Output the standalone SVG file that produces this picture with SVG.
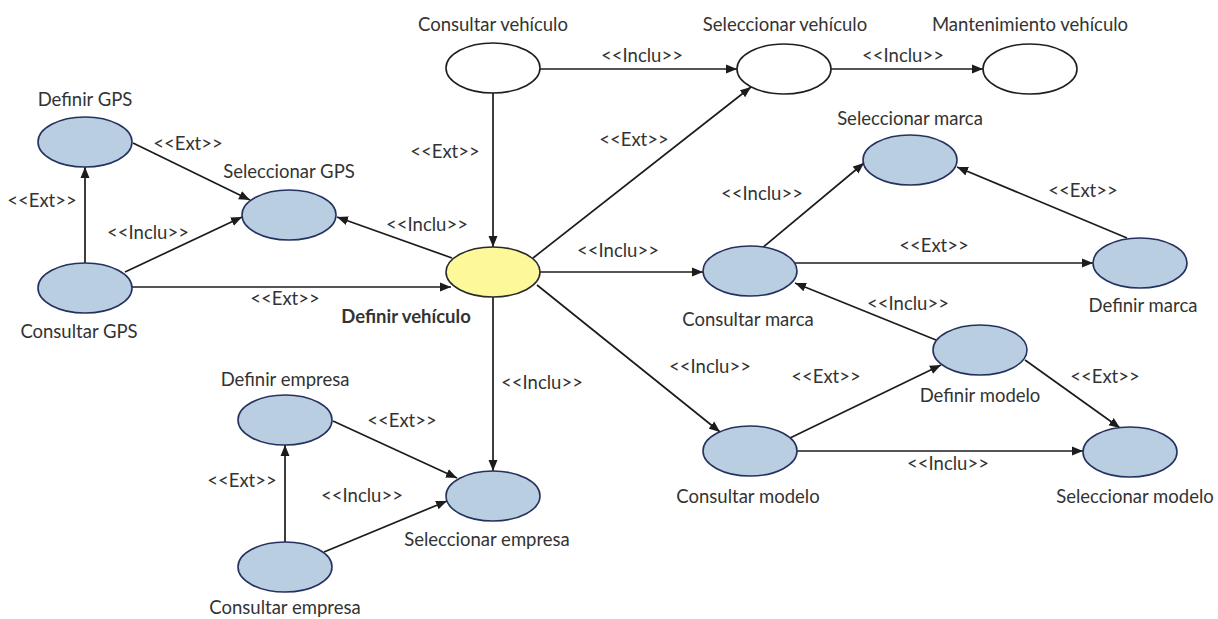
<svg xmlns="http://www.w3.org/2000/svg" width="1218" height="619" viewBox="0 0 1218 619">
  <defs>
    <style>
      .uc { fill: #bacee1; stroke: #25315f; stroke-width: 1.6; }
      .uc-main { fill: #fdf89a; stroke: #2a2a2a; stroke-width: 1.6; }
      .uc-plain { fill: #ffffff; stroke: #1f1f1f; stroke-width: 1.6; }
      .lbl { font-family: Lato, "Liberation Sans", sans-serif; font-size: 18.5px; fill: #333333; text-anchor: middle; }
      .lbl-b { font-weight: bold; }
      .rel { font-family: Lato, "Liberation Sans", sans-serif; font-size: 18.5px; fill: #333333; text-anchor: middle; }
      .edge { stroke: #1c1c1c; stroke-width: 1.7; fill: none; marker-end: url(#arrow); }
    </style>
    <marker id="arrow" markerWidth="12" markerHeight="10" refX="11" refY="5" orient="auto" markerUnits="userSpaceOnUse">
      <path d="M0,0.5 L11,5 L0,9.5 z" fill="#1c1c1c"/>
    </marker>
  </defs>
  <rect width="1218" height="619" fill="#ffffff"/>

  <!-- connectors -->
  <g id="connectors">
    <line class="edge" x1="133" y1="143" x2="250" y2="200"/>
    <line class="edge" x1="85" y1="263" x2="85" y2="167"/>
    <line class="edge" x1="125" y1="272" x2="242" y2="217"/>
    <line class="edge" x1="132" y1="287" x2="451" y2="287"/>
    <line class="edge" x1="452" y1="258" x2="337" y2="217"/>
    <line class="edge" x1="493" y1="93" x2="493" y2="247"/>
    <line class="edge" x1="540" y1="69" x2="737" y2="69"/>
    <line class="edge" x1="831" y1="69" x2="983" y2="69"/>
    <line class="edge" x1="533" y1="258" x2="751" y2="87"/>
    <line class="edge" x1="540" y1="272" x2="703" y2="272"/>
    <line class="edge" x1="762" y1="248" x2="864" y2="163"/>
    <line class="edge" x1="795" y1="263" x2="1093" y2="263"/>
    <line class="edge" x1="1127" y1="238" x2="957" y2="167"/>
    <line class="edge" x1="936" y1="340" x2="795" y2="283"/>
    <line class="edge" x1="537" y1="285" x2="720" y2="432"/>
    <line class="edge" x1="790" y1="438" x2="941" y2="365"/>
    <line class="edge" x1="1025" y1="360" x2="1120" y2="428"/>
    <line class="edge" x1="797" y1="451" x2="1083" y2="451"/>
    <line class="edge" x1="333" y1="421" x2="457" y2="478"/>
    <line class="edge" x1="285" y1="543" x2="285" y2="445"/>
    <line class="edge" x1="324" y1="552" x2="447" y2="501"/>
    <line class="edge" x1="493" y1="297" x2="493" y2="471"/>

    <!-- stereotype labels -->
    <text class="rel" x="188" y="150">&lt;&lt;Ext&gt;&gt;</text>
    <text class="rel" x="42" y="207">&lt;&lt;Ext&gt;&gt;</text>
    <text class="rel" x="148" y="239">&lt;&lt;Inclu&gt;&gt;</text>
    <text class="rel" x="285" y="305">&lt;&lt;Ext&gt;&gt;</text>
    <text class="rel" x="427" y="231">&lt;&lt;Inclu&gt;&gt;</text>
    <text class="rel" x="445" y="158">&lt;&lt;Ext&gt;&gt;</text>
    <text class="rel" x="642" y="62">&lt;&lt;Inclu&gt;&gt;</text>
    <text class="rel" x="903" y="62">&lt;&lt;Inclu&gt;&gt;</text>
    <text class="rel" x="634" y="146">&lt;&lt;Ext&gt;&gt;</text>
    <text class="rel" x="618" y="257">&lt;&lt;Inclu&gt;&gt;</text>
    <text class="rel" x="762" y="200">&lt;&lt;Inclu&gt;&gt;</text>
    <text class="rel" x="934" y="252">&lt;&lt;Ext&gt;&gt;</text>
    <text class="rel" x="1083" y="197">&lt;&lt;Ext&gt;&gt;</text>
    <text class="rel" x="908" y="310">&lt;&lt;Inclu&gt;&gt;</text>
    <text class="rel" x="710" y="373">&lt;&lt;Inclu&gt;&gt;</text>
    <text class="rel" x="826" y="383">&lt;&lt;Ext&gt;&gt;</text>
    <text class="rel" x="1105" y="383">&lt;&lt;Ext&gt;&gt;</text>
    <text class="rel" x="948" y="470">&lt;&lt;Inclu&gt;&gt;</text>
    <text class="rel" x="402" y="427">&lt;&lt;Ext&gt;&gt;</text>
    <text class="rel" x="242" y="487">&lt;&lt;Ext&gt;&gt;</text>
    <text class="rel" x="362" y="502">&lt;&lt;Inclu&gt;&gt;</text>
    <text class="rel" x="542" y="389">&lt;&lt;Inclu&gt;&gt;</text>
  </g>

  <!-- use cases -->
  <g id="definir-gps">
    <ellipse class="uc" cx="85" cy="142" rx="47" ry="25"/>
    <text class="lbl" x="85" y="106">Definir GPS</text>
  </g>
  <g id="consultar-gps">
    <ellipse class="uc" cx="85" cy="288" rx="47" ry="25"/>
    <text class="lbl" x="79" y="338">Consultar GPS</text>
  </g>
  <g id="seleccionar-gps">
    <ellipse class="uc" cx="289" cy="215" rx="47" ry="25"/>
    <text class="lbl" x="289" y="178">Seleccionar GPS</text>
  </g>
  <g id="definir-vehiculo">
    <ellipse class="uc-main" cx="493" cy="272" rx="47" ry="25"/>
    <text class="lbl lbl-b" x="406" y="323">Definir vehículo</text>
  </g>
  <g id="consultar-vehiculo">
    <ellipse class="uc-plain" cx="493" cy="68" rx="47" ry="25"/>
    <text class="lbl" x="493" y="31">Consultar vehículo</text>
  </g>
  <g id="seleccionar-vehiculo">
    <ellipse class="uc-plain" cx="784" cy="69" rx="47" ry="25"/>
    <text class="lbl" x="785" y="31">Seleccionar vehículo</text>
  </g>
  <g id="mantenimiento-vehiculo">
    <ellipse class="uc-plain" cx="1030" cy="69" rx="47" ry="25"/>
    <text class="lbl" x="1030" y="31">Mantenimiento vehículo</text>
  </g>
  <g id="seleccionar-marca">
    <ellipse class="uc" cx="910" cy="160" rx="47" ry="25"/>
    <text class="lbl" x="910" y="125">Seleccionar marca</text>
  </g>
  <g id="consultar-marca">
    <ellipse class="uc" cx="750" cy="271" rx="47" ry="25"/>
    <text class="lbl" x="748" y="326">Consultar marca</text>
  </g>
  <g id="definir-marca">
    <ellipse class="uc" cx="1140" cy="263" rx="47" ry="25"/>
    <text class="lbl" x="1143" y="312">Definir marca</text>
  </g>
  <g id="definir-modelo">
    <ellipse class="uc" cx="980" cy="350" rx="47" ry="25"/>
    <text class="lbl" x="980" y="402">Definir modelo</text>
  </g>
  <g id="consultar-modelo">
    <ellipse class="uc" cx="750" cy="451" rx="47" ry="25"/>
    <text class="lbl" x="748" y="503">Consultar modelo</text>
  </g>
  <g id="seleccionar-modelo">
    <ellipse class="uc" cx="1130" cy="452" rx="47" ry="25"/>
    <text class="lbl" x="1135" y="503">Seleccionar modelo</text>
  </g>
  <g id="definir-empresa">
    <ellipse class="uc" cx="285" cy="420" rx="47" ry="25"/>
    <text class="lbl" x="285" y="386">Definir empresa</text>
  </g>
  <g id="seleccionar-empresa">
    <ellipse class="uc" cx="493" cy="496" rx="47" ry="25"/>
    <text class="lbl" x="487" y="546">Seleccionar empresa</text>
  </g>
  <g id="consultar-empresa">
    <ellipse class="uc" cx="285" cy="567" rx="47" ry="25"/>
    <text class="lbl" x="285" y="614">Consultar empresa</text>
  </g>
</svg>
